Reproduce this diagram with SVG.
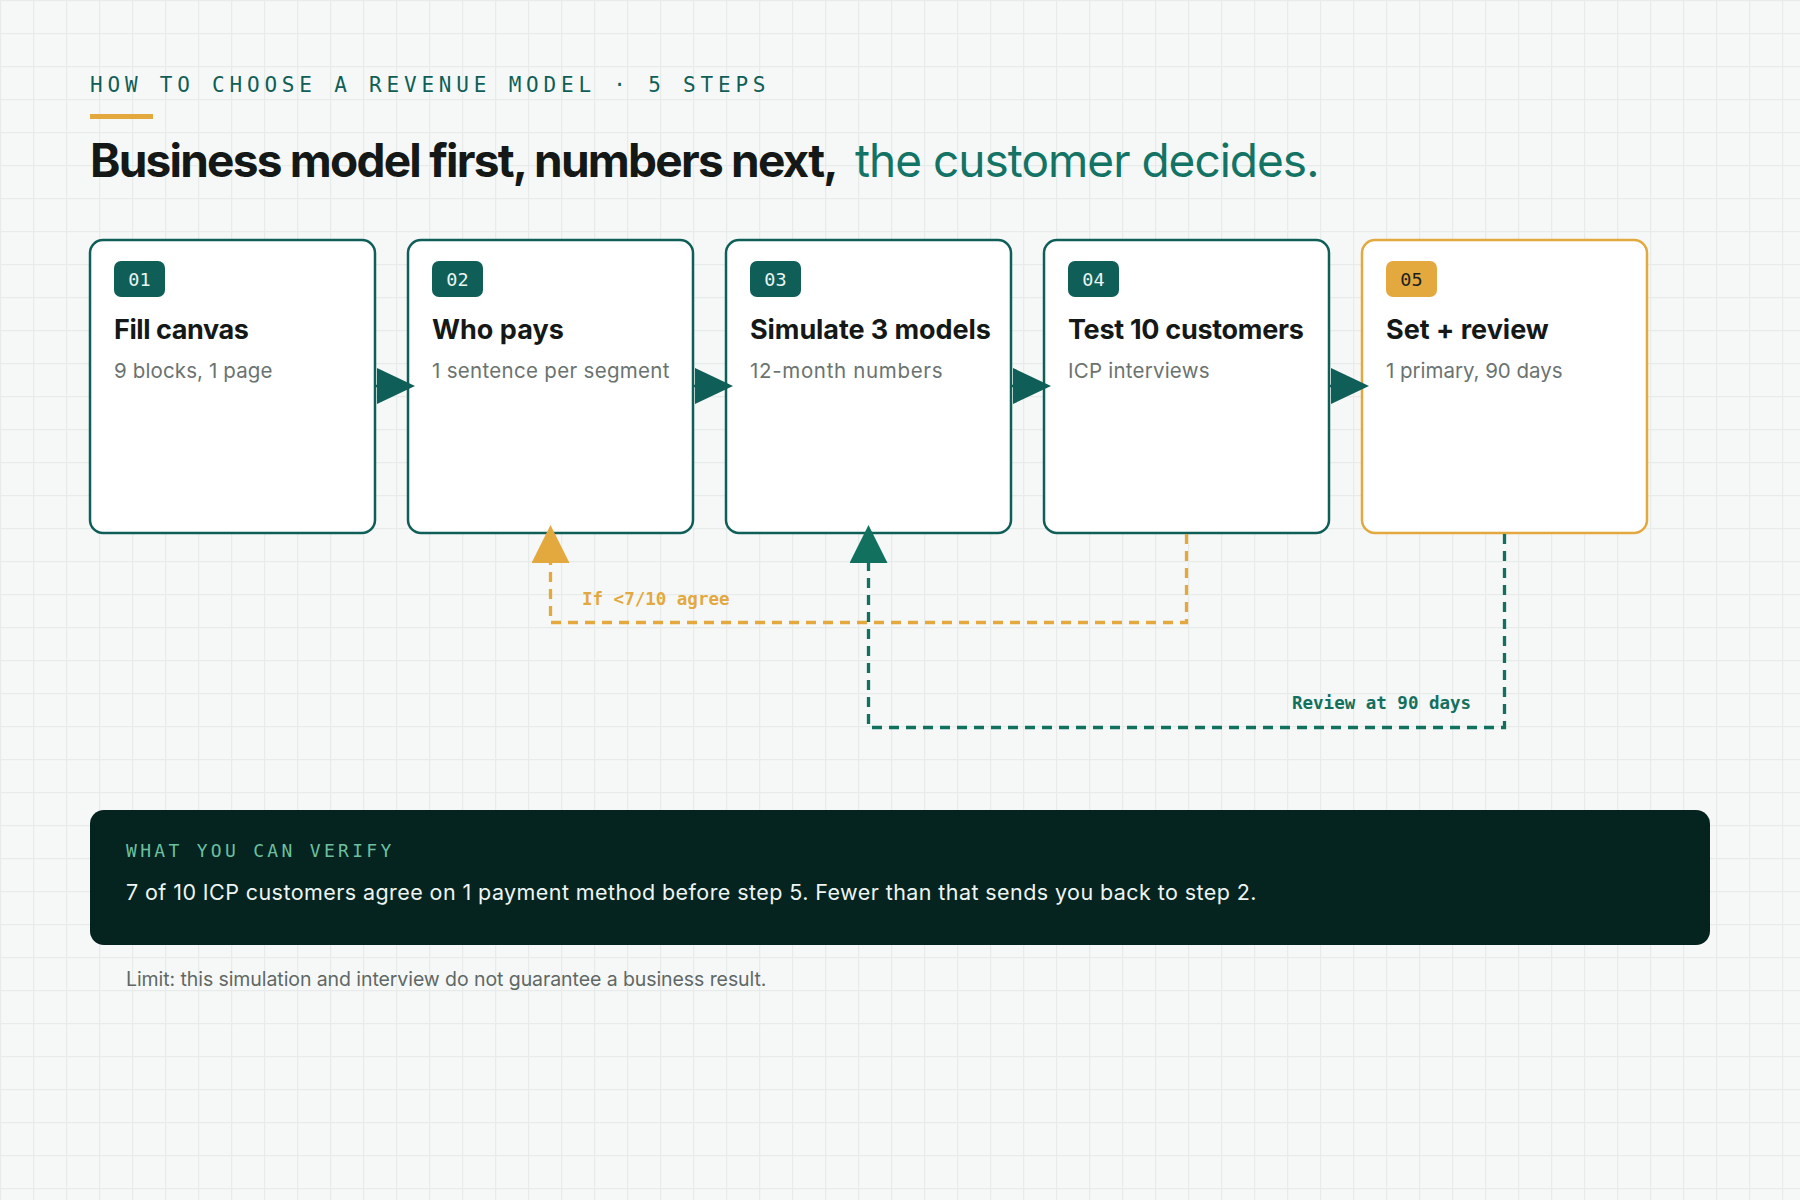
<svg xmlns="http://www.w3.org/2000/svg" width="1800" height="1200" viewBox="0 0 1800 1200">
  <defs>
    <pattern id="grid" width="33" height="33" patternUnits="userSpaceOnUse">
      <path d="M0 0.6 H33 M0.6 0 V33" stroke="#e7ecea" stroke-width="1.3" fill="none"/>
    </pattern>
    <marker id="arrTeal" markerUnits="userSpaceOnUse" markerWidth="38" markerHeight="36" viewBox="0 0 38 36" refX="0" refY="18" orient="auto">
      <path d="M0,0 L38,18 L0,36 z" fill="#0f5f58"/>
    </marker>
    <marker id="arrOrange" markerUnits="userSpaceOnUse" markerWidth="38" markerHeight="38" viewBox="0 0 38 38" refX="0" refY="19" orient="auto">
      <path d="M0,0 L38,19 L0,38 z" fill="#e3a93f"/>
    </marker>
    <marker id="arrLoop" markerUnits="userSpaceOnUse" markerWidth="38" markerHeight="38" viewBox="0 0 38 38" refX="0" refY="19" orient="auto">
      <path d="M0,0 L38,19 L0,38 z" fill="#12705f"/>
    </marker>
    <style>
      .box { fill: #ffffff; stroke: #0f5f58; stroke-width: 2.5; }
      .box.final { stroke: #e3a93f; }
      .badge { fill: #0f5f58; }
      .badge.final { fill: #e3a93f; }
      .badgeTxt { font-family: "DejaVu Sans Mono", "Liberation Mono", monospace; font-size: 18.5px; fill: #eaf5f2; text-anchor: middle; }
      .badgeTxt.final { fill: #1b1f1d; }
      .ttl { font-family: Inter, "Noto Sans", "Liberation Sans", sans-serif; font-weight: 700; font-size: 27px; fill: #141917; letter-spacing: -0.8px; }
      .sub { font-family: Inter, "Noto Sans", "Liberation Sans", sans-serif; font-size: 20.5px; fill: #6b7370; letter-spacing: -0.5px; }
      .mono { font-family: "DejaVu Sans Mono", "Liberation Mono", monospace; }
      .fwd { stroke: #0f5f58; stroke-width: 2.5; fill: none; marker-end: url(#arrTeal); }
      .loopO { stroke: #e3a93f; stroke-width: 3.3; fill: none; stroke-dasharray: 10 7; marker-end: url(#arrOrange); }
      .loopT { stroke: #12705f; stroke-width: 3.3; fill: none; stroke-dasharray: 10 7; marker-end: url(#arrLoop); }
    </style>
  </defs>

  <rect x="0" y="0" width="1800" height="1200" fill="#f6f8f7"/>
  <rect x="0" y="0" width="1800" height="1200" fill="url(#grid)"/>

  <g id="header">
    <text x="90" y="92" class="mono" font-size="21" fill="#0f5f58" letter-spacing="4.8">HOW TO CHOOSE A REVENUE MODEL · 5 STEPS</text>
    <rect x="90" y="114" width="63" height="5" fill="#e3a93f"/>
    <text x="90" y="177" font-family="Inter, 'Noto Sans', 'Liberation Sans', sans-serif" font-size="46" font-weight="700" fill="#141917" letter-spacing="-1.6" textLength="747" lengthAdjust="spacing">Business model first, numbers next,</text>
    <text x="855" y="177" font-family="Inter, 'Noto Sans', 'Liberation Sans', sans-serif" font-size="46" font-weight="400" fill="#137365" letter-spacing="-1.4" textLength="463" lengthAdjust="spacing">the customer decides.</text>
  </g>

  <g id="step1">
    <rect class="box" x="90" y="240" width="285" height="293" rx="13"/>
    <rect class="badge" x="114" y="261" width="51" height="36" rx="7"/>
    <text class="badgeTxt" x="139.5" y="286">01</text>
    <text class="ttl" x="114" y="339" textLength="134" lengthAdjust="spacing">Fill canvas</text>
    <text class="sub" x="114" y="378" textLength="158" lengthAdjust="spacing">9 blocks, 1 page</text>
  </g>
  <g id="step2">
    <rect class="box" x="408" y="240" width="285" height="293" rx="13"/>
    <rect class="badge" x="432" y="261" width="51" height="36" rx="7"/>
    <text class="badgeTxt" x="457.5" y="286">02</text>
    <text class="ttl" x="432" y="339" textLength="131" lengthAdjust="spacing">Who pays</text>
    <text class="sub" x="432" y="378" textLength="237" lengthAdjust="spacing">1 sentence per segment</text>
  </g>
  <g id="step3">
    <rect class="box" x="726" y="240" width="285" height="293" rx="13"/>
    <rect class="badge" x="750" y="261" width="51" height="36" rx="7"/>
    <text class="badgeTxt" x="775.5" y="286">03</text>
    <text class="ttl" x="750" y="339" textLength="240" lengthAdjust="spacing">Simulate 3 models</text>
    <text class="sub" x="750" y="378" textLength="192" lengthAdjust="spacing">12-month numbers</text>
  </g>
  <g id="step4">
    <rect class="box" x="1044" y="240" width="285" height="293" rx="13"/>
    <rect class="badge" x="1068" y="261" width="51" height="36" rx="7"/>
    <text class="badgeTxt" x="1093.5" y="286">04</text>
    <text class="ttl" x="1068" y="339" textLength="235" lengthAdjust="spacing">Test 10 customers</text>
    <text class="sub" x="1068" y="378" textLength="141" lengthAdjust="spacing">ICP interviews</text>
  </g>
  <g id="step5">
    <rect class="box final" x="1362" y="240" width="285" height="293" rx="13"/>
    <rect class="badge final" x="1386" y="261" width="51" height="36" rx="7"/>
    <text class="badgeTxt final" x="1411.5" y="286">05</text>
    <text class="ttl" x="1386" y="339" textLength="162" lengthAdjust="spacing">Set + review</text>
    <text class="sub" x="1386" y="378" textLength="176" lengthAdjust="spacing">1 primary, 90 days</text>
  </g>

  <g id="connectors">
    <path class="fwd" d="M375 386 H377"/>
    <path class="fwd" d="M693 386 H695"/>
    <path class="fwd" d="M1011 386 H1013"/>
    <path class="fwd" d="M1329 386 H1331"/>
    <path class="loopO" d="M1186.5 534 V622.5 H550.5 V563"/>
    <text x="582" y="605" class="mono" font-size="17.5" font-weight="700" fill="#e3a93f">If &lt;7/10 agree</text>
    <path class="loopT" d="M1504.5 534 V727.5 H868.5 V563"/>
    <text x="1292" y="709" class="mono" font-size="17.5" font-weight="700" fill="#12705f">Review at 90 days</text>
  </g>

  <g id="verify">
    <rect x="90" y="810" width="1620" height="135" rx="14" fill="#05241f"/>
    <text x="126" y="857" class="mono" font-size="18" fill="#6dbf9f" letter-spacing="3.3">WHAT YOU CAN VERIFY</text>
    <text x="126" y="900" font-family="Inter, 'Noto Sans', 'Liberation Sans', sans-serif" font-size="21.5" fill="#eef4f2" letter-spacing="-0.5" textLength="1130" lengthAdjust="spacing">7 of 10 ICP customers agree on 1 payment method before step 5. Fewer than that sends you back to step 2.</text>
  </g>

  <text x="126" y="986" font-family="Inter, 'Noto Sans', 'Liberation Sans', sans-serif" font-size="19.5" fill="#5f6866" letter-spacing="-0.4" textLength="640" lengthAdjust="spacing">Limit: this simulation and interview do not guarantee a business result.</text>
</svg>
